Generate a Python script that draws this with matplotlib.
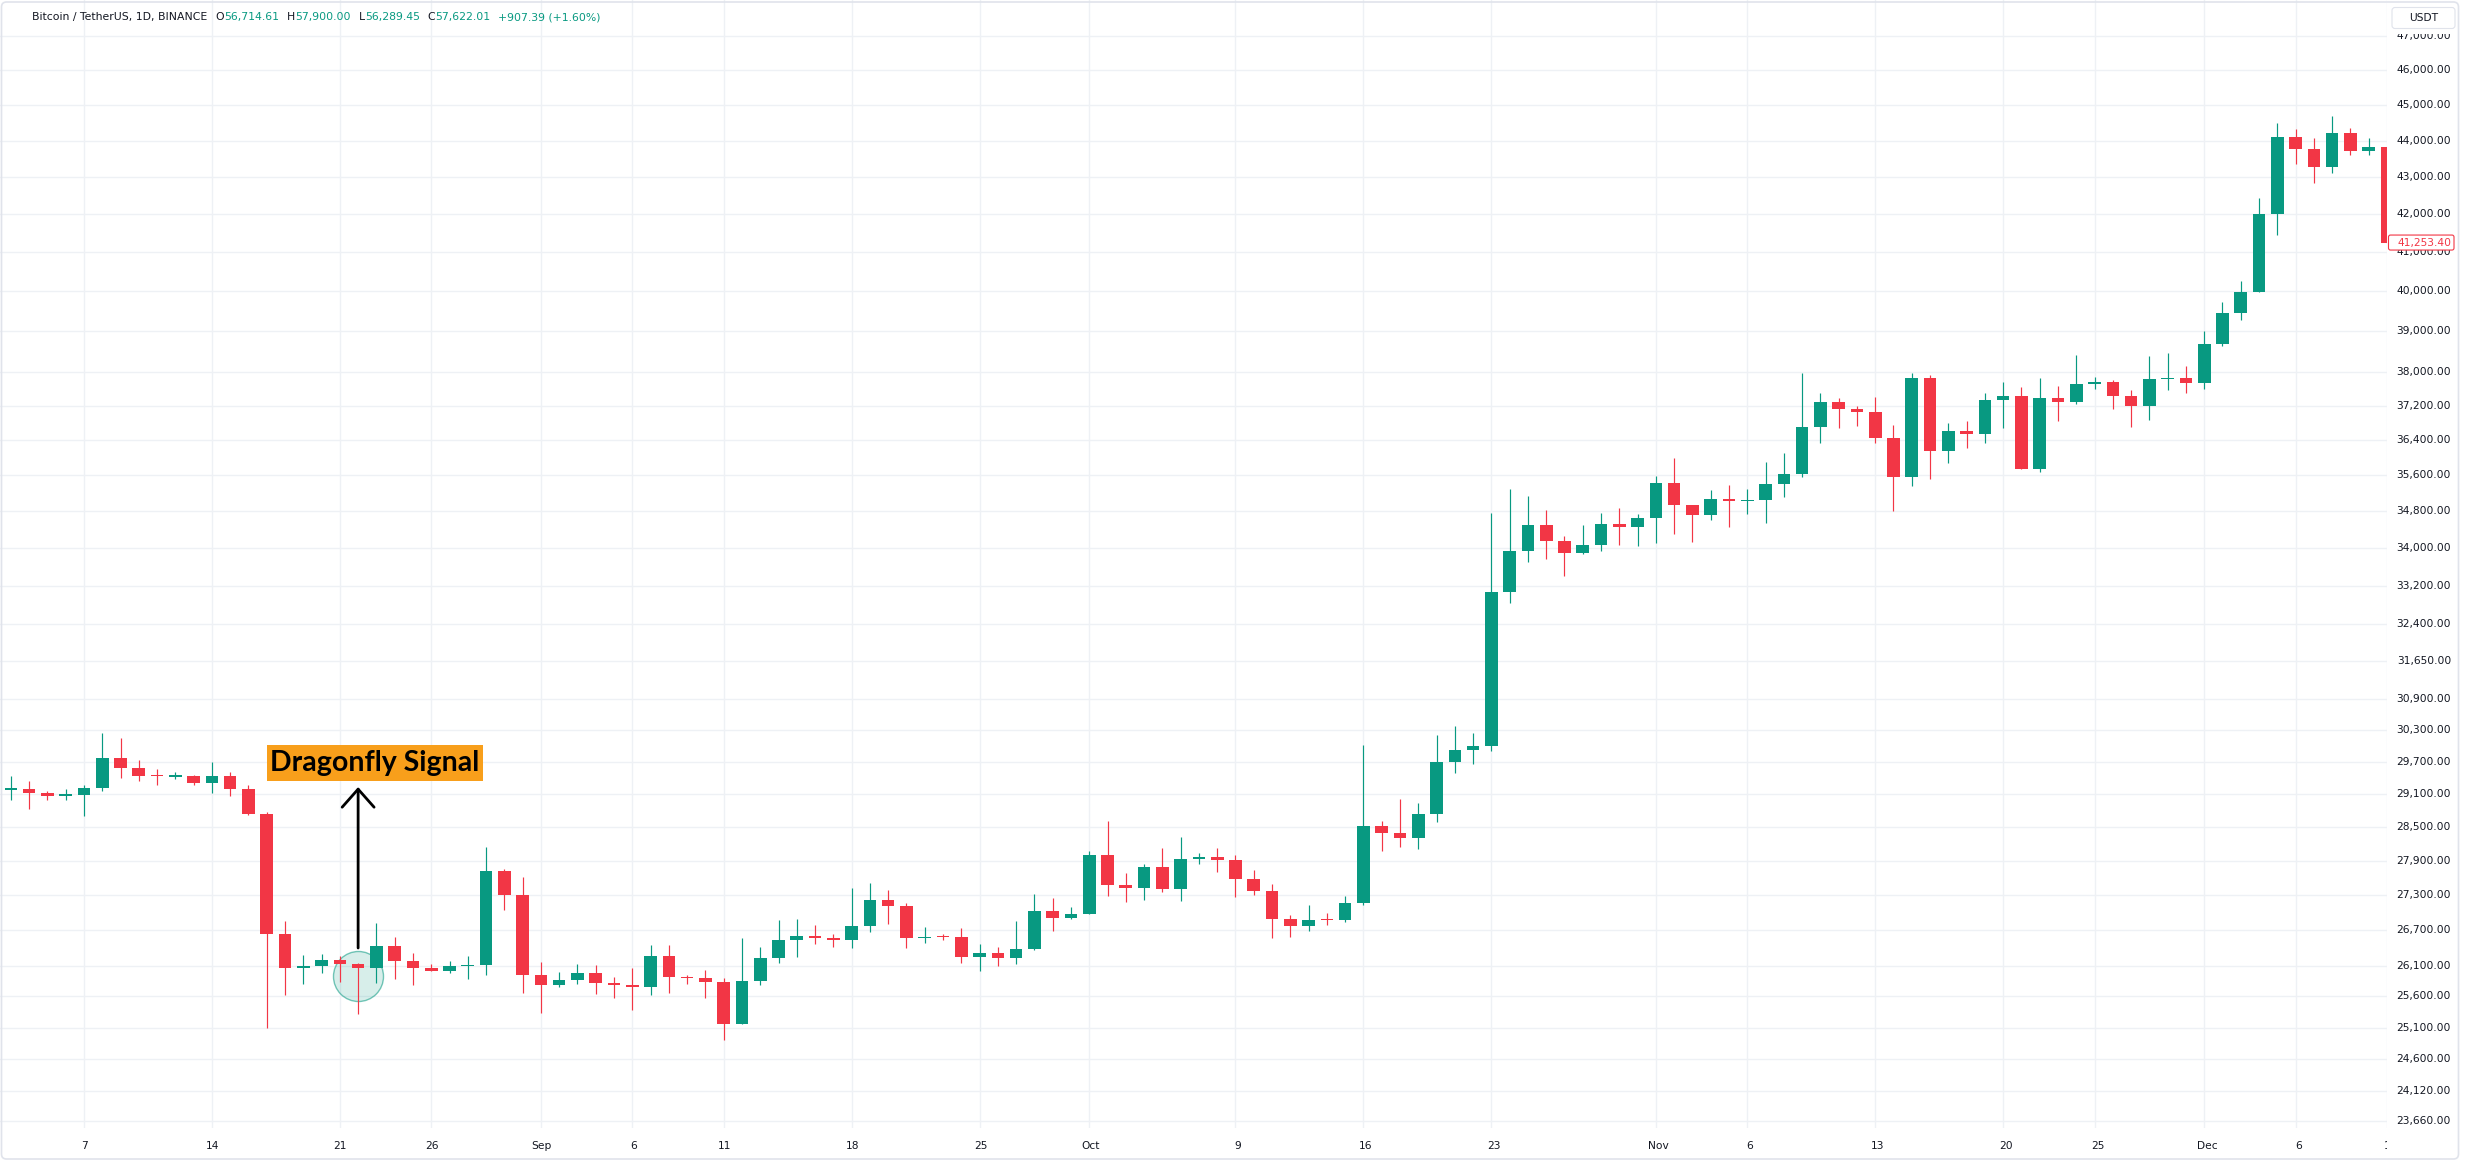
import numpy as np
import pandas as pd
import matplotlib
matplotlib.use("Agg")
import matplotlib.pyplot as plt
from matplotlib.patches import Rectangle, FancyBboxPatch
from matplotlib.transforms import IdentityTransform
import matplotlib.ticker as mticker

# ---------------- data ----------------
dates = pd.date_range("2023-08-03", "2023-12-11", freq="D")

opens = [
    29180, 29195, 29112, 29070, 29080, 29206, 29770, 29576, 29452, 29420, 29440, 29298, 29428, 29193, 28733,
    26633, 26061, 26090, 26195, 26130, 26061, 26436, 26184, 26061, 26017, 26090, 26120, 27717, 27300,
    25944, 25794, 25870, 25988, 25825, 25791, 25757, 26271, 25909, 25900, 25842, 25163, 25853, 26238, 26535,
    26601, 26557, 26524, 26769, 27214, 27111, 26557, 26590, 26580, 26243, 26322, 26228, 26383, 27028, 26898,
    26977, 27998, 27479, 27427, 27785, 27410, 27924, 27960, 27912, 27583, 27375, 26881, 26762, 26875, 26864,
    27158, 28512, 28392, 28302, 28726, 29694, 29915, 29997, 33076, 33927, 34495, 34152, 33891, 34076, 34533, 34457,
    34648, 35422, 34948, 34726, 35074, 35030, 35052, 35407, 35630, 36705, 37299, 37124, 37055, 36461, 35556,
    37863, 36164, 36613, 36552, 37345, 37445, 35748, 37396, 37282, 37714, 37780, 37429, 37208, 37831, 37855,
    37733, 38685, 39458, 39975, 42009, 44091, 43766, 43271, 44209, 43720, 43812,
]
highs = [
    29440, 29347, 29160, 29200, 29270, 30243, 30148, 29730, 29564, 29500, 29458, 29700, 29514, 29273, 28775,
    26849, 26280, 26290, 26265, 26150, 26820, 26577, 26313, 26128, 26184, 26265, 28146, 27757, 27603,
    26160, 26005, 26138, 26120, 25920, 26060, 26452, 26452, 25954, 26038, 25898, 26562, 26419, 26871, 26889,
    26783, 26628, 27426, 27498, 27390, 27168, 26752, 26633, 26741, 26456, 26406, 26858, 27317, 27249, 27096,
    28071, 28602, 27675, 27831, 28126, 28314, 28029, 28114, 27990, 27733, 27485, 26954, 27124, 26982, 27289,
    30009, 28614, 29003, 28926, 30205, 30381, 30237, 34762, 35295, 35143, 34823, 34251, 34495, 34762, 34876, 34739,
    35585, 35996, 34950, 35274, 35378, 35296, 35906, 36103, 37984, 37509, 37384, 37200, 37415, 36751, 37984,
    37936, 36797, 36850, 37496, 37763, 37649, 37869, 37673, 38419, 37878, 37812, 37567, 38395, 38460, 38153,
    39000, 39725, 40250, 42432, 44500, 44318, 44064, 44700, 44364, 44064, 43812,
]
lows = [
    28990, 28824, 28990, 28995, 28702, 29162, 29391, 29335, 29267, 29375, 29273, 29112, 29070, 28720, 25095,
    25628, 25800, 25990, 25830, 25311, 25822, 25878, 25794, 26010, 25984, 25878, 25944, 27043, 25656,
    25335, 25757, 25808, 25640, 25574, 25384, 25628, 25656, 25808, 25574, 24911, 25153, 25780, 26144, 26243,
    26458, 26409, 26392, 26672, 26808, 26392, 26475, 26530, 26144, 26013, 26106, 26128, 26361, 26677, 26890,
    26971, 27289, 27169, 27220, 27358, 27186, 27842, 27698, 27271, 27306, 26561, 26578, 26689, 26790, 26841,
    27124, 28073, 28147, 28104, 28584, 29487, 29661, 29902, 32836, 33709, 33767, 33404, 33869, 33945, 34061, 34040,
    34104, 34304, 34126, 34607, 34459, 34748, 34548, 35126, 35556, 36347, 36690, 36736, 36347, 34815, 35370,
    35526, 35890, 36217, 36347, 36690, 35740, 35681, 36857, 37257, 37608, 37135, 36705, 36872, 37584, 37502,
    37612, 38645, 39292, 39970, 41439, 43355, 42850, 43112, 43609, 43609, 41253.40,
]
closes = [
    29195, 29112, 29070, 29080, 29212, 29770, 29576, 29440, 29428, 29440, 29298, 29428, 29193, 28733, 26633,
    26061, 26090, 26195, 26130, 26061, 26436, 26184, 26061, 26017, 26090, 26120, 27717, 27300, 25944,
    25794, 25870, 25988, 25825, 25791, 25757, 26271, 25909, 25900, 25842, 25163, 25853, 26238, 26535, 26601,
    26557, 26524, 26769, 27214, 27111, 26557, 26590, 26580, 26243, 26322, 26228, 26383, 27028, 26898, 26977,
    27998, 27479, 27427, 27785, 27410, 27924, 27960, 27912, 27583, 27375, 26881, 26762, 26875, 26864, 27158,
    28512, 28392, 28302, 28726, 29694, 29915, 29997, 33076, 33927, 34495, 34152, 33891, 34076, 34533, 34457, 34648,
    35422, 34948, 34726, 35074, 35030, 35052, 35407, 35630, 36705, 37299, 37124, 37055, 36461, 35556, 37863,
    36164, 36613, 36552, 37345, 37445, 35748, 37396, 37282, 37714, 37780, 37429, 37208, 37831, 37855, 37733,
    38685, 39458, 39975, 42009, 44091, 43766, 43271, 44209, 43720, 43812, 41253.40,
]

price_ticks = [23660, 24120, 24600, 25100, 25600, 26100, 26700, 27300, 27900, 28500, 29100, 29700,
               30300, 30900, 31650, 32400, 33200, 34000, 34800, 35600, 36400, 37200, 38000, 39000,
               40000, 41000, 42000, 43000, 44000, 45000, 46000, 47000]
time_tick_dates = ["2023-08-07", "2023-08-14", "2023-08-21", "2023-08-26", "2023-09-01", "2023-09-06",
                   "2023-09-11", "2023-09-18", "2023-09-25", "2023-10-01", "2023-10-09", "2023-10-16",
                   "2023-10-23", "2023-11-01", "2023-11-06", "2023-11-13", "2023-11-20", "2023-11-25",
                   "2023-12-01", "2023-12-06", "2023-12-11"]
time_tick_labels = ["7", "14", "21", "26", "Sep", "6", "11", "18", "25", "Oct", "9", "16", "23",
                    "Nov", "6", "13", "20", "25", "Dec", "6", "11"]

header_title = "Bitcoin / TetherUS, 1D, BINANCE"
header_ohlc = [("O", "56,714.61"), ("H", "57,900.00"), ("L", "56,289.45"), ("C", "57,622.01")]
header_change = "+907.39 (+1.60%)"
last_price = 41253.40
signal_date = "2023-08-22"
signal_label = "Dragonfly Signal"
currency = "USDT"

# ---------------- style / layout ----------------
W, H = 2465, 1163
UP, DOWN = "#089981", "#F23645"
TXT = "#131722"
GRID = "#EEF1F5"
ORANGE = "#F89F1B"
LBL = ["DejaVu Sans"]

fig = plt.figure(figsize=(W / 100, H / 100), dpi=100)
fig.patch.set_facecolor("white")


def px_axes(x0, y0, x1, y1):
    return fig.add_axes([x0 / W, 1 - y1 / H, (x1 - x0) / W, (y1 - y0) / H])


PANE_R, PANE_B = 2387, 1128
DAY_PX, X0_PX = 18.305, 10.85
xlim = (-X0_PX / DAY_PX, (PANE_R - X0_PX) / DAY_PX)
ylim = (23555, 48098)

ax = px_axes(0, 0, PANE_R, PANE_B)
ax.set_yscale("log")
ax.set_xlim(*xlim)
ax.set_ylim(*ylim)
ax.set_facecolor("white")

xd = np.asarray((dates - dates[0]).days, dtype=float)
tick_x = [(pd.Timestamp(d) - dates[0]).days for d in time_tick_dates]

ax.set_yticks(price_ticks)
ax.yaxis.set_minor_locator(mticker.NullLocator())
ax.set_xticks(tick_x)
ax.grid(True, color=GRID, lw=1.0)
ax.set_axisbelow(True)
ax.tick_params(which="both", length=0, labelleft=False, labelbottom=False)
for s in ax.spines.values():
    s.set_visible(False)

O = np.array(opens, float)
Hh = np.array(highs, float)
L = np.array(lows, float)
C = np.array(closes, float)
up = C >= O
cols = np.where(up, UP, DOWN)
blo = np.minimum(O, C)
bhi = np.maximum(np.maximum(O, C), blo * 1.0009)

ax.vlines(xd, L, Hh, colors=cols, lw=0.85, zorder=3)
ax.bar(xd, bhi - blo, bottom=blo, width=0.69, color=cols, lw=0, zorder=4)

# ---------------- annotation ----------------
sx = (pd.Timestamp(signal_date) - dates[0]).days
ax.scatter([sx], [25930], s=1296, facecolor=(8 / 255, 153 / 255, 129 / 255, 0.16),
           edgecolor=(8 / 255, 153 / 255, 129 / 255, 0.55), lw=1.0, zorder=2)
ax.annotate("", xy=(sx, 29228), xytext=(sx, 26397),
            arrowprops=dict(arrowstyle="->,head_length=1.3,head_width=1.15", lw=2.0,
                            color="black", shrinkA=0, shrinkB=0), zorder=6)
bx0, bx1 = 13.99, 25.85
ax.add_patch(Rectangle((bx0, 29339), bx1 - bx0, 30015 - 29339, fc=ORANGE, ec="none", zorder=6))
ax.text((bx0 + bx1) / 2, 29676, signal_label, ha="center", va="center", fontsize=20.5,
        fontweight="bold", family=["Lato", "DejaVu Sans"], color="black", zorder=7)

# ---------------- price scale ----------------
pax = px_axes(PANE_R, 0, 2460, PANE_B)
pax.set_yscale("log")
pax.set_ylim(*ylim)
pax.set_xlim(0, 1)
pax.axis("off")
lab_x = (2451 - PANE_R) / (2460 - PANE_R)
for p in price_ticks:
    pax.text(lab_x, p, f"{p:,.2f}", ha="right", va="center", fontsize=7.7, color=TXT,
             family=LBL, zorder=2)

# current price label
fig.canvas.draw()
yd = ax.transData.transform((0, last_price))[1]
fig.add_artist(FancyBboxPatch((2388.5, yd - 7.5), 65.5, 15, boxstyle="round,pad=0,rounding_size=2",
                              transform=IdentityTransform(), fc="white", ec=DOWN, lw=0.8, zorder=5))
fig.text(2451, yd, f"{last_price:,.2f}", transform=IdentityTransform(), ha="right", va="center",
         fontsize=7.7, color=DOWN, family=LBL, zorder=6)

# currency box
fig.add_artist(Rectangle((2389, H - 34), 68, 28, transform=IdentityTransform(), fc="white",
                         ec="none", zorder=5))
fig.add_artist(FancyBboxPatch((2392, H - 28.5), 63, 21, boxstyle="round,pad=0,rounding_size=3",
                              transform=IdentityTransform(), fc="white", ec="#E0E3EB", lw=0.8, zorder=6))
fig.text(2423.5, H - 18, currency, transform=IdentityTransform(), ha="center", va="center",
         fontsize=7.7, color=TXT, family=LBL, zorder=7)

# ---------------- time scale ----------------
tax = px_axes(0, PANE_B, PANE_R, H)
tax.set_xlim(*xlim)
tax.set_ylim(0, 1)
tax.axis("off")
ty = (H - 1146) / (H - PANE_B)
for d, lab in zip(tick_x, time_tick_labels):
    tax.text(d, ty, lab, ha="center", va="center", fontsize=7.7, color=TXT, family=LBL, clip_on=True)

# ---------------- header ----------------
renderer = fig.canvas.get_renderer()
hx, hy = 32, H - 17


def put(s, color, x):
    t = fig.text(x, hy, s, transform=IdentityTransform(), ha="left", va="center", fontsize=7.8,
                 color=color, family=LBL, zorder=8)
    return t.get_window_extent(renderer).x1


hx = put(header_title, TXT, hx)
for letter, val in header_ohlc:
    hx = put(letter, TXT, hx + 8)
    hx = put(val, UP, hx)
put(header_change, UP, hx + 8)

# outer border
fig.add_artist(FancyBboxPatch((1.5, H - 1159), 2457, 1157, boxstyle="round,pad=0,rounding_size=5",
                              transform=IdentityTransform(), fc="none", ec="#E0E3EB", lw=1.2, zorder=10))

fig.savefig("out.png", dpi=100, facecolor="white")
